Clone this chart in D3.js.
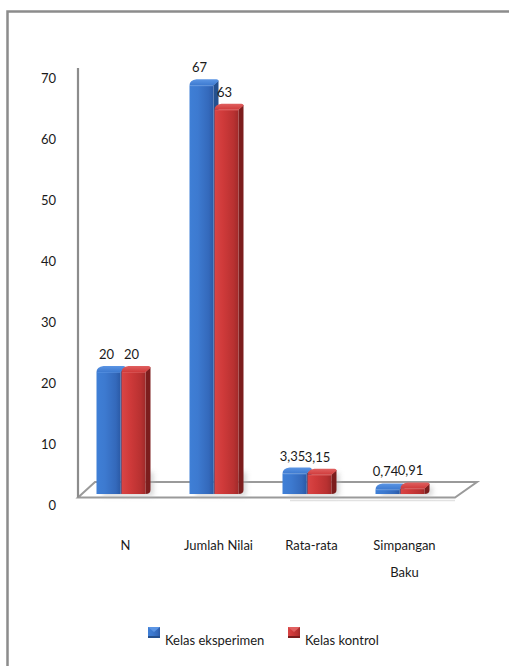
<!DOCTYPE html>
<html>
<head>
<meta charset="utf-8">
<script src="https://cdn.jsdelivr.net/npm/d3@7"></script>
<style>
html,body{margin:0;padding:0;background:#fff;}
svg{display:block;}
text{font-family:"Lato","Open Sans",sans-serif;fill:#1a1a1a;}
</style>
</head>
<body>
<script>
const categories = ["N", "Jumlah Nilai", "Rata-rata", "Simpangan Baku"];
const seriesNames = ["Kelas eksperimen", "Kelas kontrol"];
const eksperimen = [20, 67, 3.35, 0.74];
const kontrol = [20, 63, 3.15, 0.91];
const valueLabels = [["20", "67", "3,35", "0,74"], ["20", "63", "3,15", "0,91"]];
const yTicks = [0, 10, 20, 30, 40, 50, 60, 70];

const W = 509, H = 666;
const FS = "13px";
const svg = d3.select("body").append("svg").attr("width", W).attr("height", H);
const defs = svg.append("defs");

function grad(id, stops, horiz) {
  const g = defs.append("linearGradient").attr("id", id)
    .attr("x1", "0").attr("y1", "0").attr("x2", horiz ? "1" : "0").attr("y2", horiz ? "0" : "1");
  stops.forEach(s => g.append("stop").attr("offset", s[0]).attr("stop-color", s[1]));
}
const palette = [
  {front: [[0, "#3f7fd6"], [0.35, "#3d7ad0"], [0.8, "#3469bb"], [1, "#2b5aa6"]], side: "#24508f", top: "#5b95e4"},
  {front: [[0, "#d94545"], [0.35, "#cf3a3a"], [0.8, "#b83131"], [1, "#a02a2a"]], side: "#7c1d1d", top: "#e06060"}
];
palette.forEach((p, i) => {
  grad("front" + i, p.front, true);
  grad("topg" + i, [[0, p.top], [1, p.front[1][1]]], false);
});
const blur = defs.append("filter").attr("id", "blur").attr("x", "-50%").attr("y", "-50%").attr("width", "200%").attr("height", "200%");
blur.append("feGaussianBlur").attr("stdDeviation", 2.5);

// outer border
svg.append("path").attr("d", "M7.5,666 L7.5,11.5 L509,11.5")
  .attr("fill", "none").attr("stroke", "#8c8c8c").attr("stroke-width", 2.5);

const y = d3.scaleLinear().domain([0, 70]).range([494, 67]);
const x = d3.scaleBand().domain(categories).range([78, 450]);
const series = [eksperimen, kontrol];

// floor
const floorBackY = 482, floorFrontY = 497.5;
svg.append("path")
  .attr("d", `M78,${floorFrontY} L95,${floorBackY} L477,${floorBackY} L455,${floorFrontY} Z`)
  .attr("fill", "#fff").attr("stroke", "#9a9a9a").attr("stroke-width", 2);
svg.append("line").attr("x1", 290).attr("x2", 455).attr("y1", 500.5).attr("y2", 500.5)
  .attr("stroke", "#e2e2e2").attr("stroke-width", 1.5);

// left wall edge
svg.append("line").attr("x1", 78).attr("x2", 78).attr("y1", 68).attr("y2", floorFrontY)
  .attr("stroke", "#8c8c8c").attr("stroke-width", 2.2);

// y axis labels
const yAxis = d3.axisLeft(y).tickValues(yTicks).tickSize(0).tickPadding(0).tickFormat(d3.format("d"));
const ya = svg.append("g").attr("transform", "translate(56,11)").call(yAxis);
ya.select(".domain").remove();
ya.selectAll("text").style("font-family", "Lato, 'Open Sans', sans-serif").style("font-size", FS).attr("fill", "#1a1a1a");

const bw = 24, dx = 5, dy = 6;
const g = svg.append("g");
categories.forEach((c, ci) => {
  const cx = x(c) + x.bandwidth() / 2;
  series.forEach((s, si) => {
    const x0 = cx - 28 + si * 25;
    const top = y(s[ci]);
    const h = Math.min(y(0) - top, 20);
    g.append("rect").attr("x", x0 + 6).attr("y", y(0) - h - 2).attr("width", bw + 2).attr("height", h + 4)
      .attr("fill", "#b8b8b8").attr("opacity", 0.55).attr("filter", "url(#blur)");
  });
});
categories.forEach((c, ci) => {
  const cx = x(c) + x.bandwidth() / 2;
  series.forEach((s, si) => {
    const x0 = cx - 28 + si * 25, x1 = x0 + bw;
    const top = y(s[ci]), base = y(0);
    const p = palette[si];
    g.append("path").attr("d", `M${x1},${top} L${x1 + dx},${top - dy + 1} L${x1 + dx},${base - dy + 2} Q${x1 + dx},${base} ${x1},${base} Z`)
      .attr("fill", p.side);
    g.append("rect").attr("x", x0).attr("y", top).attr("width", bw).attr("height", base - top)
      .attr("fill", `url(#front${si})`);
    g.append("path").attr("d", `M${x0},${top} Q${x0},${top - dy + 1} ${x0 + dx + 2},${top - dy} L${x1 + dx - 2},${top - dy} Q${x1 + dx},${top - dy} ${x1 + dx},${top - dy + 2} L${x1},${top} Z`)
      .attr("fill", `url(#topg${si})`);
    g.append("line").attr("x1", x0 + 1).attr("x2", x1).attr("y1", top + 0.5).attr("y2", top + 0.5)
      .attr("stroke", p.top).attr("stroke-width", 1).attr("opacity", 0.6);
    g.append("text").attr("x", x0 + bw / 2 - 2).attr("y", top - 13)
      .attr("text-anchor", "middle").style("font-size", FS).text(valueLabels[si][ci]);
  });
});

// category labels
categories.forEach(c => {
  const cx = x(c) + x.bandwidth() / 2 + 1;
  const words = c.split(" ");
  const lines = c.length > 12 ? words : [c];
  lines.forEach((l, li) => {
    svg.append("text").attr("x", cx).attr("y", 550 + li * 27).attr("text-anchor", "middle")
      .style("font-size", FS).text(l);
  });
});

// legend
const legX = [148, 288];
seriesNames.forEach((n, i) => {
  const lg = svg.append("g").attr("transform", `translate(${legX[i]},627)`);
  lg.append("rect").attr("width", 12).attr("height", 11).attr("fill", `url(#front${i})`);
  lg.append("path").attr("d", "M0,0 L12,0 L6,5 Z").attr("fill", palette[i].top);
  lg.append("rect").attr("y", 9).attr("width", 12).attr("height", 2).attr("fill", palette[i].side);
  lg.append("text").attr("x", 17).attr("y", 18).style("font-size", FS).text(n);
});
</script>
</body>
</html>
